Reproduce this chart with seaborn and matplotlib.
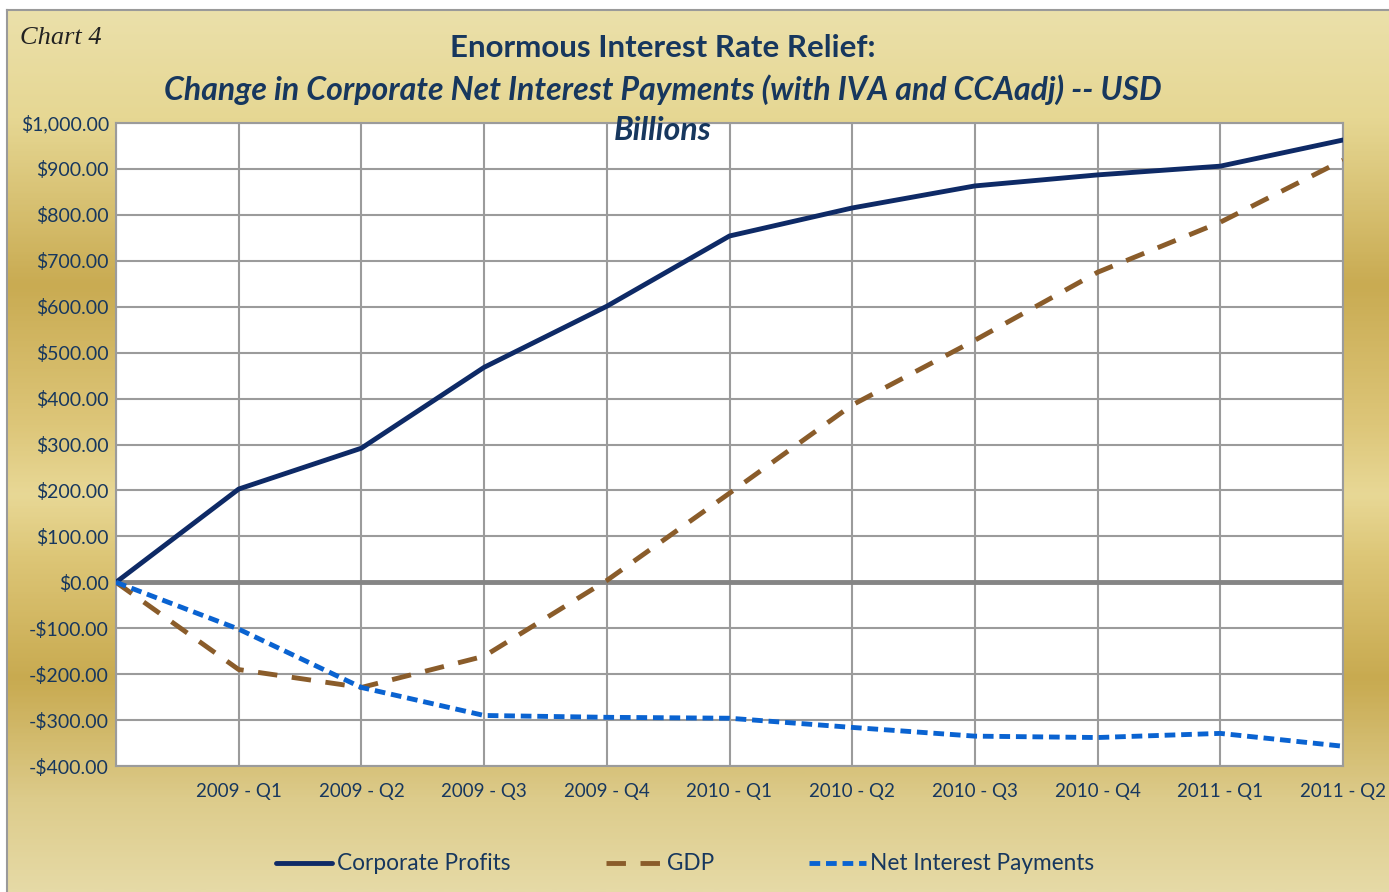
import numpy as np
import pandas as pd
import matplotlib
matplotlib.use("Agg")
import matplotlib.pyplot as plt
from matplotlib.colors import LinearSegmentedColormap
from matplotlib.lines import Line2D
import seaborn as sns

categories = ["", "2009 - Q1", "2009 - Q2", "2009 - Q3", "2009 - Q4", "2010 - Q1",
              "2010 - Q2", "2010 - Q3", "2010 - Q4", "2011 - Q1", "2011 - Q2"]
corporate_profits = [0, 203, 292, 468, 601, 754, 815, 863, 887, 906, 963]
gdp = [0, -190, -229, -161, 4, 194, 386, 527, 675, 784, 919]
net_interest = [0, -102, -229, -290, -294, -296, -316, -335, -338, -329, -357]
y_ticks = list(range(-400, 1001, 100))
series_names = ["Corporate Profits", "GDP", "Net Interest Payments"]

sns.set_theme(style="white")
plt.rcParams['font.family'] = ['Lato', 'DejaVu Sans']

W, H = 1389, 892
fig = plt.figure(figsize=(W / 100, H / 100), dpi=100)
fig.patch.set_facecolor("white")

# gold gradient background panel
bg = fig.add_axes([7 / W, 0, 1 - 7 / W, 1 - 10 / H], zorder=0)
cmap = LinearSegmentedColormap.from_list(
    "gold",
    [(0.0, "#ebe0aa"), (0.12, "#e6d793"), (0.31, "#c9ab52"), (0.47, "#ddc679"),
     (0.55, "#e8d896"), (0.62, "#ddc677"), (0.76, "#c8aa50"), (0.90, "#ddcc8c"),
     (1.0, "#e6daa6")])
grad = np.linspace(0, 1, 400).reshape(-1, 1)
bg.imshow(grad, aspect="auto", cmap=cmap, extent=[0, 1, 0, 1], origin="upper")
bg.set_xlim(0, 1); bg.set_ylim(0, 1)
bg.set_xticks([]); bg.set_yticks([])
for s in bg.spines.values():
    s.set_color("#9a9a9a"); s.set_linewidth(1.5)
bg.spines["right"].set_visible(False)
bg.spines["bottom"].set_visible(False)

ax = fig.add_axes([116 / W, 1 - 766 / H, (1343 - 116) / W, (766 - 123) / H], zorder=2)
ax.set_facecolor("white")

x = np.arange(len(categories))
df = pd.DataFrame({
    "x": np.tile(x, 3),
    "value": corporate_profits + gdp + net_interest,
    "series": np.repeat(series_names, len(categories)),
})
palette = {"Corporate Profits": "#0e2a66", "GDP": "#8a5c2a", "Net Interest Payments": "#0a63d1"}
dashes = {"Corporate Profits": "", "GDP": (4, 3), "Net Interest Payments": (2.2, 1.2)}
sns.lineplot(data=df, x="x", y="value", hue="series", style="series",
             palette=palette, dashes=dashes, linewidth=3.5, ax=ax, legend=False, zorder=5)

ax.set_xlim(0, 10)
ax.set_ylim(-400, 1000)
ax.set_xticks(x)
ax.set_xticklabels(categories)
ax.set_yticks(y_ticks)
ax.set_yticklabels([("-$" if v < 0 else "$") + f"{abs(v):,.2f}" for v in y_ticks])
ax.grid(True, color="#9b9b9b", linewidth=1.5)
ax.axhline(0, color="#858585", linewidth=3.5, zorder=3)
ax.set_xlabel(""); ax.set_ylabel("")
for s in ax.spines.values():
    s.set_color("#9b9b9b"); s.set_linewidth(1.5)
ax.tick_params(axis="y", labelsize=14, labelcolor="#17375e", pad=5, length=0)
ax.tick_params(axis="x", labelsize=13.5, labelcolor="#17375e", pad=12, length=0)

# titles
title_color = "#17375e"
fig.text(663 / W, 1 - 48 / H, "Enormous Interest Rate Relief:", ha="center", va="center",
         fontsize=22.5, fontweight="bold", color=title_color)
fig.text(663 / W, 1 - 90 / H, "Change in Corporate Net Interest Payments (with IVA and CCAadj) -- USD",
         ha="center", va="center", fontsize=23, fontweight="bold", style="italic", color=title_color)
fig.text(663 / W, 1 - 131 / H, "Billions", ha="center", va="center", fontsize=23,
         fontweight="bold", style="italic", color=title_color, zorder=10)
fig.text(20 / W, 1 - 38 / H, "Chart 4", ha="left", va="center", fontsize=19,
         style="italic", family=["Liberation Serif", "DejaVu Serif"], color="#222222")

handles = [Line2D([], [], color=palette[n], linewidth=3.5,
                  linestyle=(0, dashes[n]) if dashes[n] else "-") for n in series_names]
fig.legend(handles, series_names, loc="center", bbox_to_anchor=(685 / W, 1 - 864 / H), ncol=3,
           frameon=False, fontsize=16.3, labelcolor=title_color, handlelength=2.5,
           handletextpad=0.2, columnspacing=4.2)

fig.savefig("out.png", dpi=100)
